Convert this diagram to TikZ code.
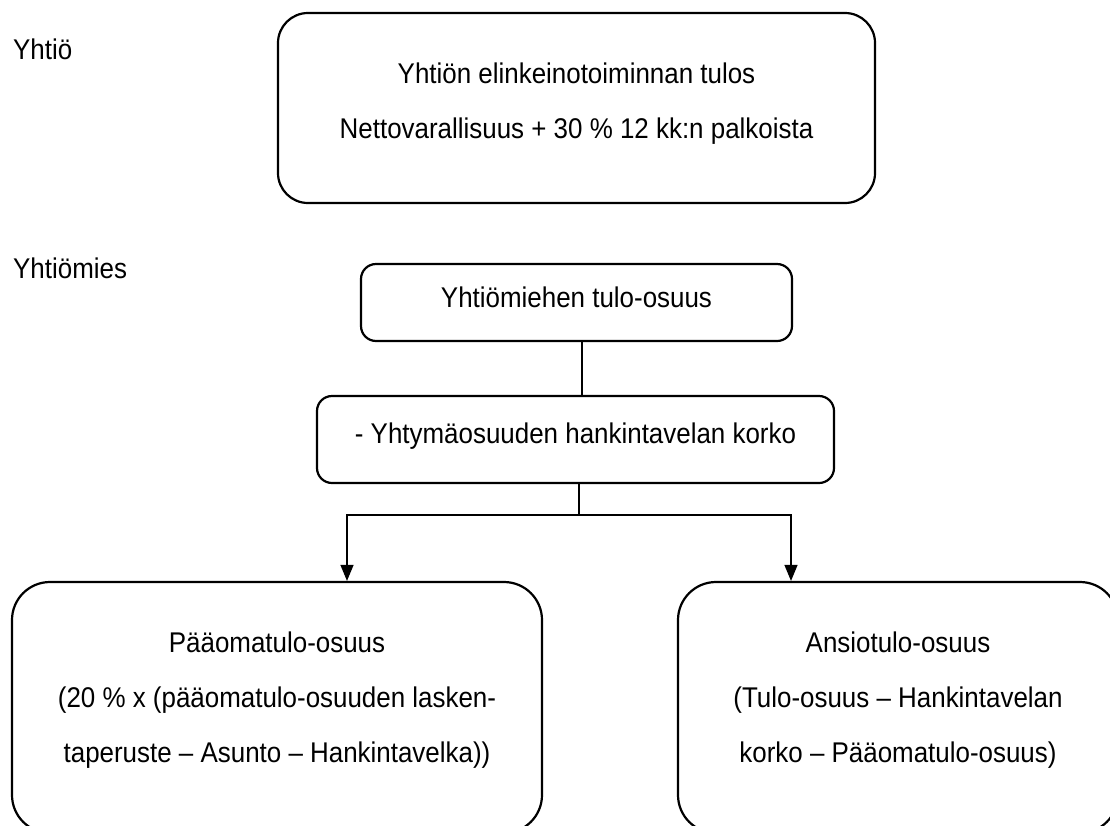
\documentclass[tikz,border=0pt]{standalone}
\usepackage{fontspec}
\setmainfont{Liberation Sans}[FakeStretch=0.91]
\usetikzlibrary{arrows.meta}
\begin{document}
\begin{tikzpicture}[x=1pt,y=-1pt,
  box/.style={draw, line width=2.2pt, align=center, inner sep=0pt,
    font=\fontsize{28.5}{55}\selectfont},
  lbl/.style={anchor=base west, inner sep=0pt, font=\fontsize{28.5}{55}\selectfont},
  conn/.style={line width=1.2pt},
  arr/.style={line width=1.2pt, -{Triangle[length=16pt,width=13pt]}}]
\useasboundingbox (0,0) rectangle (1110,825);
\clip (0,0) rectangle (1110,825);

\node[lbl] (yhtio) at (13,59) {Yhtiö};
\node[lbl] (yhtiomies) at (13,278) {Yhtiömies};

\node[box, rounded corners=30pt, minimum width=597pt, minimum height=190pt, text height=76pt, text depth=16pt]
  (top) at (576.5,108) {Yhtiön elinkeinotoiminnan tulos\\Nettovarallisuus + 30 \% 12 kk:n palkoista};
\node[box, rounded corners=15pt, minimum width=431pt, minimum height=77pt, text height=21pt, text depth=12pt]
  (share) at (576.5,302.5) {Yhtiömiehen tulo-osuus};
\node[box, rounded corners=15pt, minimum width=517pt, minimum height=87pt, text height=21pt, text depth=14pt]
  (interest) at (575.5,439.5) {- Yhtymäosuuden hankintavelan korko};
\node[box, rounded corners=38pt, minimum width=530pt, minimum height=251pt, text height=132pt, text depth=23pt]
  (capital) at (277,707.5) {Pääomatulo-osuus\\(20 \% x (pääomatulo-osuuden lasken-\\taperuste – Asunto – Hankintavelka))};
\node[box, rounded corners=38pt, minimum width=440pt, minimum height=251pt, text height=132pt, text depth=23pt]
  (earned) at (898,707.5) {Ansiotulo-osuus\\(Tulo-osuus – Hankintavelan\\korko – Pääomatulo-osuus)};

\draw[conn] ([xshift=5.5pt]share.south) -- ([xshift=5.5pt]share.south |- interest.north);
\coordinate (j) at (579,515);
\coordinate (jl) at (347,515);
\coordinate (jr) at (791,515);
\draw[conn] (interest.south -| j) -- (j);
\draw[arr] (j) -- (jl) -- (jl |- capital.north);
\draw[arr] (j) -- (jr) -- (jr |- earned.north);
\end{tikzpicture}
\end{document}
